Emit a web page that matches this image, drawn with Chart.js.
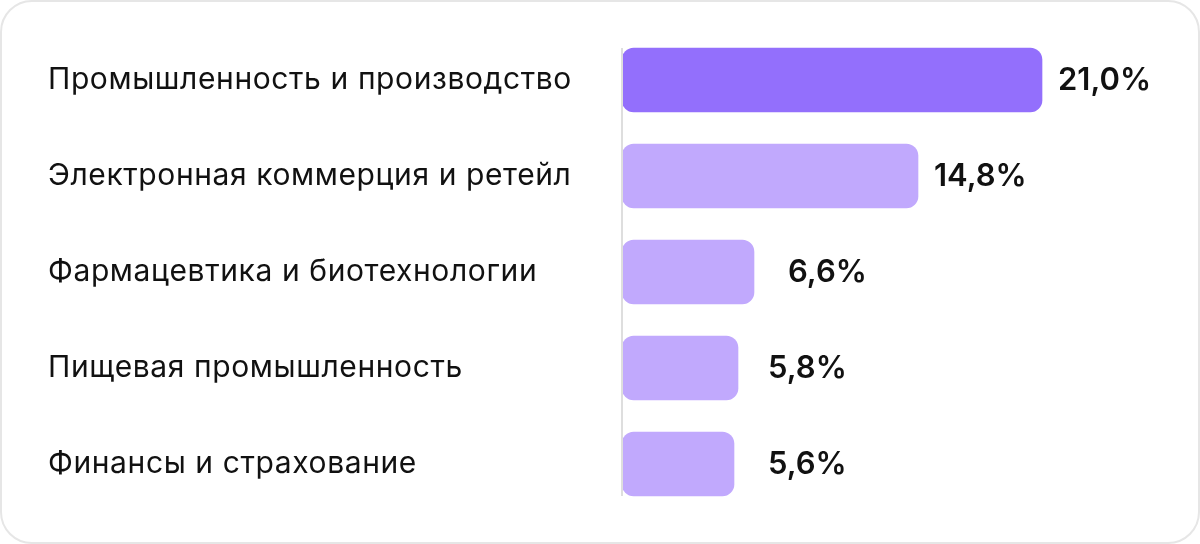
<!DOCTYPE html>
<html>
<head>
<meta charset="utf-8">
<script src="https://cdn.jsdelivr.net/npm/chart.js@4.4.1/dist/chart.umd.min.js"></script>
<style>
    html, body { margin: 0; padding: 0; background: #fff; }
    #card {
        position: absolute; left: 0; top: 0;
        width: 1200px; height: 544px;
        box-sizing: border-box;
        border: 2px solid #e6e6e6;
        border-radius: 32px;
        background: #fff;
    }
    #ourChart { position: absolute; left: 0; top: 0; }
</style>
</head>
<body>
<div id="card"></div>
<canvas id="ourChart" width="1200" height="544"></canvas>
<script>
// данные с картинки
const categories = [
    'Промышленность и производство',
    'Электронная коммерция и ретейл',
    'Фармацевтика и биотехнологии',
    'Пищевая промышленность',
    'Финансы и страхование'
];
const shares = [21.0, 14.8, 6.6, 5.8, 5.6];
const barColors = ['#936ffc', '#c1a9fd', '#c1a9fd', '#c1a9fd', '#c1a9fd'];

const fontFamily = 'Inter, "Noto Sans", sans-serif';

// вертикальная линия слева от столбиков + подписи значений
const valueLabels = {
    id: 'valueLabels',
    beforeDraw(chart) {
        // шрифт на картинке шире, чем Inter
        chart.ctx.letterSpacing = '0.6px';
    },
    afterDatasetsDraw(chart, args, opts) {
        const ctx = chart.ctx;
        const bars = chart.getDatasetMeta(0).data;
        const left = chart.chartArea.left;

        ctx.save();
        ctx.letterSpacing = '0px';
        ctx.strokeStyle = '#dedede';
        ctx.lineWidth = 2;
        ctx.beginPath();
        ctx.moveTo(left, bars[0].y - bars[0].height / 2);
        ctx.lineTo(left, bars[bars.length - 1].y + bars[bars.length - 1].height / 2);
        ctx.stroke();

        ctx.fillStyle = '#111';
        ctx.font = '600 31px ' + fontFamily;
        ctx.textAlign = 'left';
        ctx.textBaseline = 'middle';
        bars.forEach((bar, i) => {
            const text = shares[i].toFixed(1).replace('.', ',') + '%';
            ctx.fillText(text, bar.x + opts.offsets[i], bar.y + 1);
        });
        ctx.restore();
    }
};

const chartElement = new Chart(document.getElementById('ourChart'), {
    type: 'bar',
    data: {
        labels: categories,
        datasets: [
            {
                data: shares,
                backgroundColor: barColors,
                borderRadius: 12,
                borderSkipped: false,
                barThickness: 64
            }
        ]
    },
    options: {
        indexAxis: 'y',
        responsive: false,
        animation: false,
        devicePixelRatio: 1,
        layout: {
            padding: { left: 48, right: 78, top: 32, bottom: 32 }
        },
        plugins: {
            legend: { display: false },
            tooltip: { enabled: false },
            valueLabels: { offsets: [16, 16, 34, 30, 34] }
        },
        scales: {
            x: {
                display: false,
                min: 0,
                max: 25
            },
            y: {
                border: { display: false },
                grid: { display: false },
                ticks: {
                    crossAlign: 'far',
                    padding: 0,
                    color: '#111',
                    font: { family: fontFamily, size: 30, weight: 400 }
                },
                afterFit(scale) {
                    scale.width = 574;
                }
            }
        }
    },
    plugins: [valueLabels]
});
</script>
</body>
</html>
